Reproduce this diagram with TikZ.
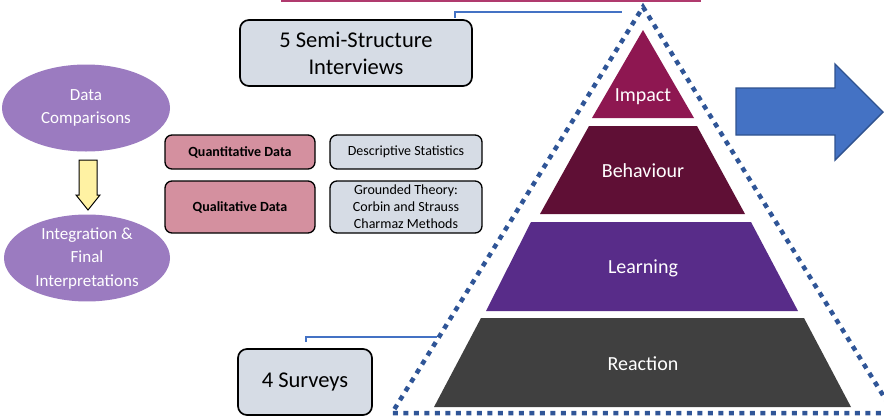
\documentclass[tikz,border=0pt]{standalone}
\usepackage{fontspec}
\setmainfont{Carlito}
\usetikzlibrary{shapes.geometric}

\definecolor{boxblue}{HTML}{D6DCE5}
\definecolor{boxpink}{HTML}{D4909F}
\definecolor{ellpurple}{HTML}{9B7BC0}
\definecolor{arrowyellow}{HTML}{FFF2A3}
\definecolor{tierimpact}{HTML}{8E1751}
\definecolor{tierbehav}{HTML}{5F0F35}
\definecolor{tierlearn}{HTML}{582C89}
\definecolor{tierreact}{HTML}{404040}
\definecolor{bigarrow}{HTML}{4472C4}
\definecolor{bigarrowedge}{HTML}{2F528F}
\definecolor{dotblue}{HTML}{2F5597}
\definecolor{linkblue}{HTML}{4472C4}
\definecolor{topedge}{HTML}{B03A6E}

\tikzset{
  bigbox/.style={draw=black, line width=1.7pt, rounded corners=9pt, fill=boxblue,
    align=center, inner sep=0pt, font=\fontsize{22.5}{27}\selectfont},
  smallbox/.style={draw=black, line width=1.3pt, rounded corners=7pt,
    align=center, inner sep=0pt, font=\fontsize{14}{17}\selectfont},
  pinkbox/.style={smallbox, fill=boxpink, font=\fontsize{14}{17}\selectfont\bfseries},
  greybox/.style={smallbox, fill=boxblue},
  bubble/.style={ellipse, fill=ellpurple, text=white, align=center, inner sep=0pt,
    font=\fontsize{17}{23.5}\selectfont},
  tierlabel/.style={text=white, font=\fontsize{20}{22}\selectfont},
  link/.style={draw=linkblue, line width=1.8pt},
  dotted edge/.style={draw=dotblue, line width=4.5pt, dash pattern=on 5pt off 5.5pt}
}

\begin{document}
\begin{tikzpicture}[x=1pt, y=-1pt]
\useasboundingbox (0,0) rectangle (884,418);

% lower edge of the banner above the page
\draw[topedge, line width=1.8pt, fill=white] (282,-30) rectangle (700,0.6);

% pyramid tiers
\fill[tierimpact] (643,30) -- (694,118) -- (592,118) -- cycle;
\fill[tierbehav] (589,126) -- (697,126) -- (745,214) -- (540,214) -- cycle;
\fill[tierlearn] (531,222) -- (751,222) -- (798,311) -- (486,311) -- cycle;
\fill[tierreact] (481,318) -- (804,318) -- (851,407) -- (434,407) -- cycle;

\node[tierlabel] (impact) at (643,97) {Impact};
\node[tierlabel] (behaviour) at (643,171) {Behaviour};
\node[tierlabel] (learning) at (643,268) {Learning};
\node[tierlabel] (reaction) at (643,364) {Reaction};

% dotted outline round the pyramid
\coordinate (apex) at (643,7);
\coordinate (baseL) at (392,413);
\coordinate (baseR) at (894,413);
\draw[dotted edge] (baseR) -- (apex) -- (baseL) -- (baseR);

% data sources
\node[bigbox, minimum width=232pt, minimum height=66pt] (interviews) at (356,53)
  {5 Semi-Structure\\Interviews};
\node[bigbox, minimum width=134pt, minimum height=66pt] (surveys) at (305,382)
  {4 Surveys};

\coordinate (intEnd) at (622,12);
\coordinate (survEnd) at (437,337);
\draw[link] (interviews.north -| 455,0) ++(0,-1) -- (455,12) -- (intEnd);
\draw[link] (surveys.north -| 306,0) ++(0,-6) -- (306,337) -- (survEnd);

% analysis boxes
\node[pinkbox, minimum width=150pt, minimum height=34pt] (quant) at (240,152) {Quantitative Data};
\node[pinkbox, minimum width=150pt, minimum height=52pt] (qual) at (240,207) {Qualitative Data};
\node[greybox, minimum width=152pt, minimum height=34pt] (desc) at (406,152) {Descriptive Statistics};
\node[greybox, minimum width=152pt, minimum height=52pt] (grounded) at (406,207)
  {Grounded Theory:\\Corbin and Strauss\\Charmaz Methods};

% comparison and integration
\node[bubble, minimum width=168pt, minimum height=87pt] (compare) at (86,108)
  {Data\\Comparisons};
\node[bubble, minimum width=166pt, minimum height=86pt] (integrate) at (87,258)
  {Integration \&\\Final\\Interpretations};

\draw[draw=black, line width=1pt, fill=arrowyellow]
  (79,160) -- (97,160) -- (97,195) -- (100,195) -- (88,210) -- (76,195) -- (79,195) -- cycle;

% outcome arrow
\draw[draw=bigarrowedge, line width=1.4pt, fill=bigarrow, line join=miter]
  (736,88) -- (835,88) -- (835,64) -- (883,112) -- (835,160) -- (835,135) -- (736,135) -- cycle;
\end{tikzpicture}
\end{document}
